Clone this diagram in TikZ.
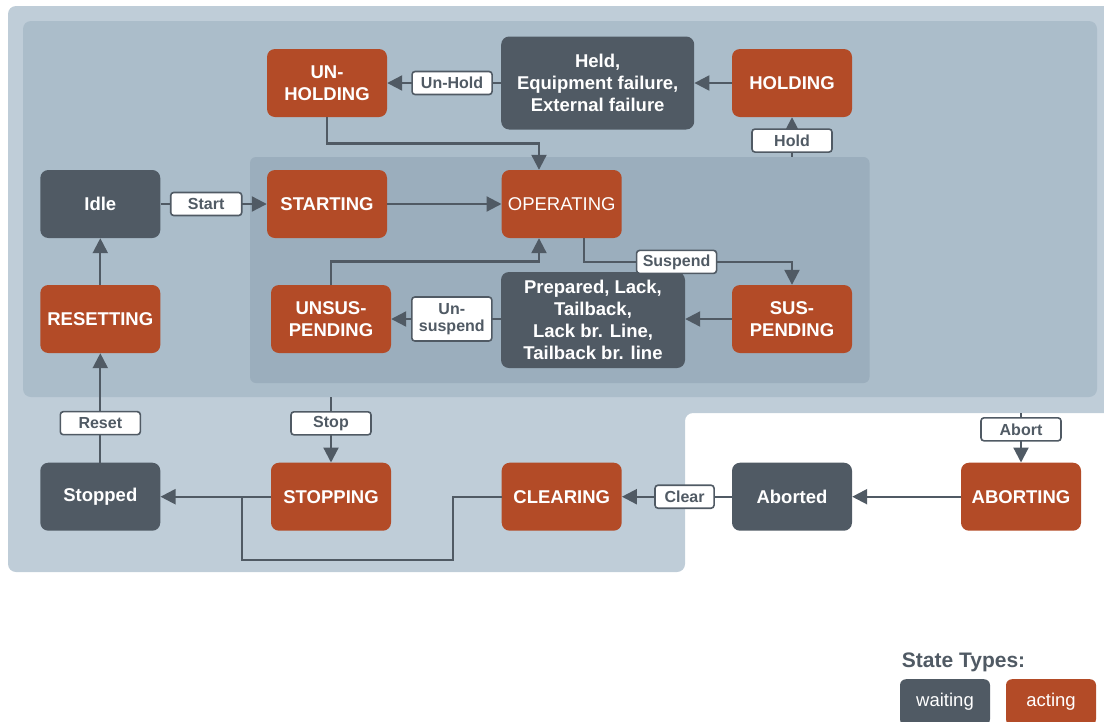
\documentclass[tikz,border=0pt]{standalone}
\usepackage{fontspec}
\setmainfont{Liberation Sans}
\usetikzlibrary{arrows.meta}
\definecolor{waitgray}{HTML}{505A64}
\definecolor{actred}{HTML}{B34B27}
\definecolor{bgouter}{HTML}{BFCDD8}
\definecolor{bgmid}{HTML}{ABBDCA}
\definecolor{bginner}{HTML}{9BAEBD}

\begin{document}
\begin{tikzpicture}[x=1pt,y=-1pt,
    state_wait/.style ={rectangle, rounded corners=8pt, fill=waitgray, text=white,
      minimum width=120pt, minimum height=68pt, align=center,
      font=\fontsize{18.5}{22}\selectfont\bfseries},
    state_act/.style ={state_wait, fill=actred},
    cmd/.style ={rectangle, rounded corners=3pt, draw=waitgray, line width=1.6pt,
      fill=white, text=waitgray, minimum width=80pt, minimum height=23pt,
      inner sep=1pt, align=center, font=\fontsize{16}{17.5}\selectfont\bfseries},
    line/.style ={draw=waitgray, line width=2.2pt, -{Triangle[length=15pt,width=15pt]}},
    region/.style ={rectangle, rounded corners=8pt, draw=none, inner sep=0pt}]
    \useasboundingbox (0,0) rectangle (1104,721);
    \clip (0,0) rectangle (1104,721);
    % background regions
    \fill[bgouter, rounded corners=8pt] (8,6) -- (1120,6) -- (1120,413) -- (685,413)
      -- (685,572) -- (8,572) -- cycle;
    \coordinate (plant_edge) at (685,413);
    \node[region, fill=bgmid, minimum width=1074pt, minimum height=376pt] (running) at (560,209) {};
    \node[region, fill=bginner, rounded corners=6pt, minimum width=619.5pt,
      minimum height=226pt] (producing) at (559.75,270) {};
    % row 1
    \node[state_act] (unholding) at (327,83) {UN-\\HOLDING};
    \node[state_wait, minimum width=193pt, minimum height=93pt] (held) at (597.7,83)
      {Held,\\Equipment failure,\\External failure};
    \node[state_act] (holding) at (792,83) {HOLDING};
    % row 2
    \node[state_wait] (idle) at (100.3,204) {Idle};
    \node[state_act] (starting) at (327,204) {STARTING};
    \node[state_act, font=\fontsize{18.5}{22}\selectfont] (operating) at (561.7,204) {OPERATING};
    % row 3
    \node[state_act] (resetting) at (100.3,319) {RESETTING};
    \node[state_act] (unsuspending) at (331,319) {UNSUS-\\PENDING};
    \node[state_wait, minimum width=184pt, minimum height=96pt] (prepared) at (593,320)
      {Prepared, Lack,\\Tailback,\\Lack br. Line,\\Tailback br. line};
    \node[state_act] (suspending) at (792,319) {SUS-\\PENDING};
    % row 4
    \node[state_wait] (stopped) at (100.3,496.7) {Stopped};
    \node[state_act] (stopping) at (331,496.7) {STOPPING};
    \node[state_act] (clearing) at (561.7,496.7) {CLEARING};
    \node[state_wait] (aborted) at (792,496.7) {Aborted};
    \node[state_act] (aborting) at (1021,496.7) {ABORTING};
    % legend
    \node[anchor=base west, inner sep=0pt, text=waitgray,
      font=\fontsize{21}{25}\selectfont\bfseries] (legend_title) at (901.7,667) {State Types:};
    \node[state_wait, anchor=north, rounded corners=6pt, minimum width=90pt, minimum height=46pt,
      font=\fontsize{18.5}{22}\selectfont] (legend_wait) at (945,679) {waiting};
    \node[state_act, anchor=north, rounded corners=6pt, minimum width=90pt, minimum height=46pt,
      font=\fontsize{18.5}{22}\selectfont] (legend_act) at (1051,679) {acting};
    % connecting nodes with paths
    \draw[line] (holding) -- (held);
    \draw[line] (held) -- node[cmd, pos=0.43] (lbl_unhold) {Un-Hold} (unholding);
    \draw[line] (idle) -- node[cmd, minimum width=71pt, pos=0.43] (lbl_start) {Start} (starting);
    \draw[line] (starting) -- (operating);
    \draw[line] (unholding.south) -- ++(0,26.3) -| ([xshift=-22.7pt]operating.north);
    \draw[line] ([xshift=22.3pt]operating.south) -- ++(0,23.7) coordinate (susp_bend)
      -- node[cmd, pos=0.445] (lbl_suspend) {Suspend} (susp_bend -| suspending.north)
      -- (suspending.north);
    \draw[line] (suspending.west) -- (suspending.west -| prepared.east);
    \draw[line] (prepared.west |- unsuspending) -- node[cmd, minimum height=44pt, pos=0.447]
      (lbl_unsuspend) {Un-\\suspend} (unsuspending.east);
    \draw[line] (unsuspending.north) -- ++(0,-23.3) -| ([xshift=-22.7pt]operating.south);
    \draw[line] (producing.north -| holding) -- node[cmd, pos=0.41] (lbl_hold) {Hold} (holding.south);
    \draw[line] (resetting) -- (idle);
    \draw[line] (stopped) -- node[cmd, pos=0.36] (lbl_reset) {Reset} (resetting);
    \draw[line] (running.south -| stopping) -- node[cmd, pos=0.4] (lbl_stop) {Stop} (stopping.north);
    \draw[line] (stopping) -- (stopped);
    \path (stopping.west) -- (stopped.east) coordinate[pos=0.26] (stop_join);
    \draw[line, -] (clearing.west) -- ++(-48.4,0) -- ++(0,63) -| (stop_join);
    \draw[line] (aborted) -- node[cmd, minimum width=59pt, pos=0.43] (lbl_clear) {Clear} (clearing);
    \draw[line] (aborting) -- (aborted);
    \draw[line] (plant_edge -| aborting) -- node[cmd, pos=0.33] (lbl_abort) {Abort} (aborting.north);
\end{tikzpicture}
\end{document}
